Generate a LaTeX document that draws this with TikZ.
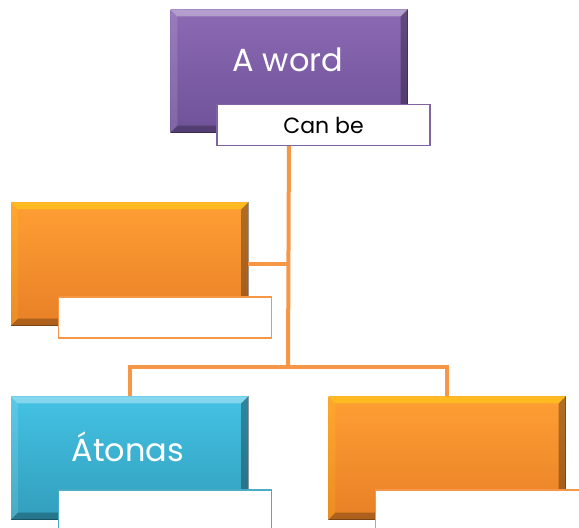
\documentclass[tikz,border=0pt]{standalone}
\usepackage{fontspec}
\setmainfont{Poppins}
\usetikzlibrary{calc}

\definecolor{purpTop}{RGB}{140,106,180}
\definecolor{purpBot}{RGB}{110,82,152}
\definecolor{purpLine}{RGB}{128,100,162}
\definecolor{orgTop}{RGB}{255,158,52}
\definecolor{orgBot}{RGB}{232,128,38}
\definecolor{orgLine}{RGB}{247,150,70}
\definecolor{cyTop}{RGB}{68,194,228}
\definecolor{cyBot}{RGB}{50,158,188}
\definecolor{cyLine}{RGB}{75,172,198}

\tikzset{
  card/.style={minimum width=237pt, minimum height=123pt, inner sep=0pt},
  cardtext/.style={text=white, font=\fontsize{32}{36}\selectfont},
  tag/.style={draw, fill=white, line width=1.5pt, minimum width=213pt,
    minimum height=41pt, inner sep=0pt, font=\fontsize{22}{26}\selectfont},
  conn/.style={draw=orgLine, line width=4pt},
}

% bevelled edges of a card: light top/left, dark bottom/right
\newcommand{\bevelcard}[3]{%
  \fill[#2, opacity=0.35] (#1.north west) -- (#1.north east) -- ++(-7,7) -- ($(#1.north west)+(7,7)$) -- cycle;
  \fill[#2, opacity=0.12] (#1.north west) -- ($(#1.north west)+(7,7)$) -- ($(#1.south west)+(7,-7)$) -- (#1.south west) -- cycle;
  \fill[#3, opacity=0.25] (#1.south west) -- (#1.south east) -- ++(-7,-7) -- ($(#1.south west)+(7,-7)$) -- cycle;
  \fill[#3, opacity=0.30] (#1.north east) -- (#1.south east) -- ++(-7,-7) -- ($(#1.north east)+(-7,7)$) -- cycle;
  \draw[#3, opacity=0.35, line width=1pt] (#1.north east) -- (#1.south east) -- (#1.south west);
}

\begin{document}
\begin{tikzpicture}[x=1pt, y=-1pt]
\useasboundingbox (0,0) rectangle (579,528);

% cards
\node[card, top color=purpTop, bottom color=purpBot] (w) at (289,71) {};
\bevelcard{w}{white}{black}
\node[cardtext] (wt) at (288,60) {A word};

\node[card, top color=orgTop, bottom color=orgBot] (o1) at (129.5,264) {};
\bevelcard{o1}{yellow}{black}

\node[card, top color=cyTop, bottom color=cyBot] (cy) at (129.5,458) {};
\bevelcard{cy}{white}{black}
\node[cardtext] (cyt) at (128,447) {Átonas};

\node[card, top color=orgTop, bottom color=orgBot] (o2) at (447,458) {};
\bevelcard{o2}{yellow}{black}

% connectors
\coordinate (hub) at (288,367);
\draw[conn] (w.south) -- (hub);
\draw[conn] (o1.east) -- (hub |- o1.east);
\draw[conn] (cy.north) -- (cy.north |- hub) -- (o2.north |- hub) -- (o2.north);

% tags
\node[tag, draw=purpLine] (cb) at (323.5,125) {Can be};
\node[tag, draw=orgLine] (t1) at (165,317.5) {};
\node[tag, draw=cyLine] (t2) at (165,510.5) {};
\node[tag, draw=orgLine] (t3) at (482,510.5) {};
\end{tikzpicture}
\end{document}
